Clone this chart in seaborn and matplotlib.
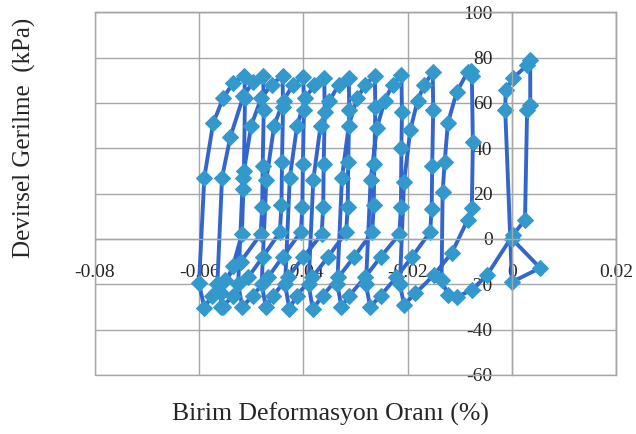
import matplotlib
matplotlib.use('Agg')
import matplotlib.pyplot as plt
import seaborn as sns
from matplotlib.patches import Rectangle

# cyclic triaxial loop, strain (%) and deviator stress (kPa)
strain = [
    0.0000, 0.0054, 0.0000, -0.0013, -0.0012, 0.0002, 0.0029, 0.0035, 0.0035, 0.0029, 0.0025, 0.0002,
    -0.0048, -0.0077, -0.0106, -0.0123,
    -0.0135, -0.0133, -0.0129, -0.0123, -0.0106, -0.0085, -0.0079, -0.0077, -0.0075, -0.0077, -0.0085,
    -0.0115, -0.0150, -0.0185, -0.0207,
    -0.0215, -0.0207, -0.0195, -0.0181, -0.0168, -0.0152, -0.0151, -0.0153, -0.0154, -0.0157,
    -0.0192, -0.0222, -0.0252, -0.0272,
    -0.0280, -0.0271, -0.0259, -0.0244, -0.0229, -0.0212, -0.0211, -0.0212, -0.0213, -0.0216,
    -0.0252, -0.0282, -0.0312, -0.0327,
    -0.0335, -0.0326, -0.0313, -0.0297, -0.0281, -0.0263, -0.0262, -0.0264, -0.0265, -0.0268,
    -0.0303, -0.0333, -0.0363, -0.0382,
    -0.0390, -0.0381, -0.0367, -0.0350, -0.0332, -0.0313, -0.0312, -0.0314, -0.0315, -0.0318,
    -0.0353, -0.0383, -0.0413, -0.0427,
    -0.0435, -0.0426, -0.0412, -0.0396, -0.0379, -0.0360, -0.0359, -0.0361, -0.0362, -0.0365,
    -0.0400, -0.0430, -0.0458, -0.0472,
    -0.0480, -0.0471, -0.0456, -0.0438, -0.0420, -0.0400, -0.0399, -0.0401, -0.0402, -0.0405,
    -0.0440, -0.0468, -0.0497, -0.0517,
    -0.0525, -0.0516, -0.0500, -0.0481, -0.0461, -0.0440, -0.0439, -0.0441, -0.0442, -0.0445,
    -0.0478, -0.0506, -0.0535, -0.0555,
    -0.0565, -0.0556, -0.0540, -0.0515, -0.0497, -0.0477, -0.0476, -0.0478, -0.0479, -0.0482,
    -0.0520, -0.0550, -0.0575, -0.0590,
    -0.0600, -0.0590, -0.0573, -0.0554, -0.0535, -0.0513, -0.0512, -0.0514, -0.0515, -0.0518,
    -0.0535, -0.0558, -0.0558,
]
stress = [
    0.0, -12.8, -19.0, 57.0, 65.6, 70.9, 76.6, 78.9, 59.0, 56.8, 8.4, 1.8,
    -16.0, -22.5, -25.6, -24.7,
    -18.0, 20.7, 34.0, 51.0, 64.8, 73.6, 74.0, 72.0, 42.7, 13.6, 8.4,
    -6.0, -16.0, -24.0, -29.0,
    -20.0, 25.0, 48.0, 61.0, 68.0, 73.5, 57.0, 32.0, 13.0, 3.0,
    -8.0, -17.0, -25.0, -30.0,
    -20.0, 26.0, 49.0, 61.0, 68.0, 72.5, 56.0, 40.0, 14.0, 2.0,
    -8.0, -17.0, -25.0, -30.0,
    -20.0, 27.0, 50.0, 62.0, 68.0, 72.0, 58.0, 33.0, 15.0, 3.0,
    -8.0, -17.0, -25.0, -31.0,
    -20.0, 26.0, 50.0, 61.0, 68.0, 71.0, 57.0, 34.0, 14.0, 3.0,
    -8.0, -17.0, -25.0, -31.0,
    -20.0, 27.0, 50.0, 62.0, 68.0, 71.0, 56.0, 33.0, 14.0, 2.0,
    -8.0, -17.0, -25.0, -30.0,
    -20.0, 26.0, 50.0, 61.0, 68.0, 71.5, 57.0, 33.0, 14.0, 3.0,
    -8.0, -17.0, -25.0, -30.0,
    -20.0, 27.0, 50.0, 62.0, 68.0, 72.0, 58.0, 34.0, 15.0, 3.0,
    -8.0, -17.0, -25.0, -30.0,
    -20.0, 27.0, 45.0, 63.0, 69.0, 72.0, 57.0, 32.0, 14.0, 2.0,
    -10.0, -18.0, -25.0, -30.4,
    -19.5, 27.0, 51.0, 62.0, 68.7, 72.0, 62.0, 30.0, 22.0, 2.0,
    -12.0, -24.0, -30.0,
]

x_ticks = [-0.08, -0.06, -0.04, -0.02, 0, 0.02]
x_tick_labels = ['-0.08', '-0.06', '-0.04', '-0.02', '0', '0.02']
y_ticks = [-60, -40, -20, 0, 20, 40, 60, 80, 100]
y_tick_labels = ['-60', '-40', '-20', '0', '20', '40', '60', '80', '100']

sns.set_style('white')
plt.rcParams['font.family'] = ['Liberation Serif', 'DejaVu Serif']

fig = plt.figure(figsize=(6.36, 4.34), dpi=100)
ax = fig.add_axes([0.149, 0.136, 0.820, 0.836])

sns.lineplot(x=strain, y=stress, sort=False, estimator=None, ax=ax,
             color='#3366CC', lw=2.8, marker='D', markersize=8,
             markerfacecolor='#3399CC', markeredgecolor='#3399CC')

ax.set_xlim(-0.08, 0.02)
ax.set_ylim(-60, 100)
ax.set_xticks(x_ticks)
ax.set_xticklabels(x_tick_labels)
ax.set_yticks(y_ticks)
ax.set_yticklabels(y_tick_labels)

grid_col = '#A6A6A6'
ax.set_axisbelow(True)
ax.grid(True, color=grid_col, lw=1)
ax.spines['left'].set_position(('data', 0))
ax.spines['bottom'].set_position(('data', 0))
for s in ax.spines.values():
    s.set_color(grid_col)
    s.set_linewidth(1)
ax.add_patch(Rectangle((0, 0), 1, 1, transform=ax.transAxes, fill=False,
                       ec=grid_col, lw=1, clip_on=False))
ax.tick_params(axis='x', length=0, labelsize=14, pad=18)
ax.tick_params(axis='y', length=0, labelsize=14, pad=14)

fig.text(0.52, 0.046, 'Birim Deformasyon Oranı (%)', ha='center', va='center', fontsize=18.5)
fig.text(0.039, 0.682, 'Devirsel Gerilme  (kPa)', ha='center', va='center',
         rotation=90, fontsize=18)

fig.savefig('out.png', dpi=100)
